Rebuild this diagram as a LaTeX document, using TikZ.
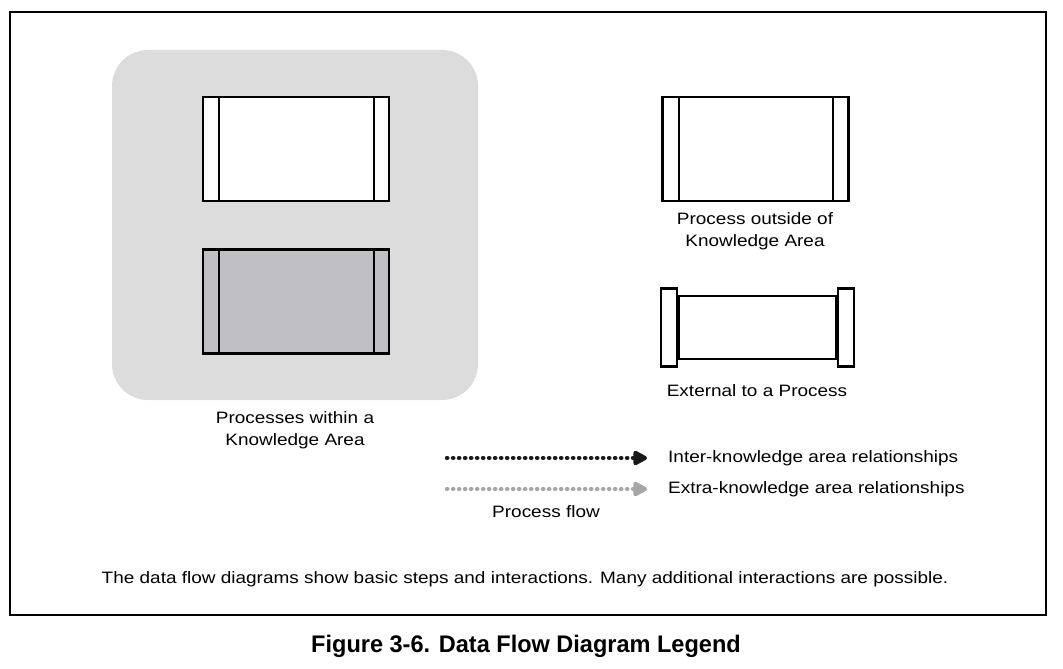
\documentclass[tikz,border=0pt]{standalone}
\usepackage{fontspec}
\setmainfont[FakeStretch=1.15]{Liberation Sans}
\newfontfamily\titlefont[FakeStretch=0.98]{Liberation Sans}
\usetikzlibrary{arrows.meta}
\definecolor{areagray}{HTML}{DCDCDC}
\definecolor{procgray}{HTML}{C0BFC3}
\definecolor{flowgray}{HTML}{A6A6A6}

\begin{document}
\begin{tikzpicture}[x=1pt,y=-1pt,
    procbox/.style={draw, line width=2.2pt, minimum width=186pt, minimum height=104pt, inner sep=0pt},
    capbox/.style={draw, line width=2.2pt, minimum width=16pt, minimum height=78pt, inner sep=0pt, fill=white},
    lbl/.style={font=\fontsize{16.5}{21.5}\selectfont, align=center, inner sep=0pt},
    flow/.style={line width=4.4pt, line cap=round, dash pattern=on 0.3pt off 5.7pt,
        -{Triangle[length=16pt,width=16pt,round=false]}}]
    \useasboundingbox (0,0) rectangle (1063,669);

    % Frame and knowledge area
    \node[draw, line width=2.8pt, minimum width=1036pt, minimum height=603pt, inner sep=0pt] (frame) at (528,313.5) {};
    \node[fill=areagray, rounded corners=36pt, minimum width=366pt, minimum height=350pt, inner sep=0pt] (area) at (295,225) {};

    % Processes within a knowledge area
    \node[procbox, fill=white] (inA) at (296,149) {};
    \node[procbox, fill=procgray] (inB) at (296,301.5) {};
    \foreach \p in {inA, inB} {
        \draw[line width=2pt] ([xshift=17pt]\p.north west) -- ([xshift=17pt]\p.south west);
        \draw[line width=2pt] ([xshift=-16pt]\p.north east) -- ([xshift=-16pt]\p.south east);
    }
    \node[lbl] (inlbl) at (295,430) {Processes within a\\Knowledge Area};

    % Process outside of knowledge area
    \node[procbox, fill=white] (out) at (755.5,149) {};
    \draw[line width=2pt] ([xshift=18pt]out.north west) -- ([xshift=18pt]out.south west);
    \draw[line width=2pt] ([xshift=-17pt]out.north east) -- ([xshift=-17pt]out.south east);
    \node[lbl] (outlbl) at (755,231) {Process outside of\\Knowledge Area};

    % External to a process
    \node[draw, line width=2.2pt, minimum width=157pt, minimum height=63pt, inner sep=0pt] (ext) at (757.5,327.5) {};
    \node[capbox, anchor=east] (extL) at (ext.west) {};
    \node[capbox, anchor=west] (extR) at (ext.east) {};
    \node[lbl] (extlbl) at (757,391) {External to a Process};

    % Process flow arrows
    \coordinate (interS) at (447,458);
    \coordinate (interE) at (647,458);
    \coordinate (extraS) at (447,489);
    \coordinate (extraE) at (647,489);
    \draw[flow, black!90] (interS) -- (interE);
    \draw[flow, flowgray] (extraS) -- (extraE);
    \node[lbl, anchor=west] (interlbl) at (668,458) {Inter-knowledge area relationships};
    \node[lbl, anchor=west] (extralbl) at (668,489) {Extra-knowledge area relationships};
    \node[lbl] (flowlbl) at (546,512) {Process flow};

    % Note and caption
    \node[lbl] (note) at (525,579) {The data flow diagrams show basic steps and interactions. Many additional interactions are possible.};
    \node[font=\titlefont\bfseries\fontsize{24}{28}\selectfont, inner sep=0pt] (title) at (526,646) {Figure 3-6. Data Flow Diagram Legend};
\end{tikzpicture}
\end{document}
